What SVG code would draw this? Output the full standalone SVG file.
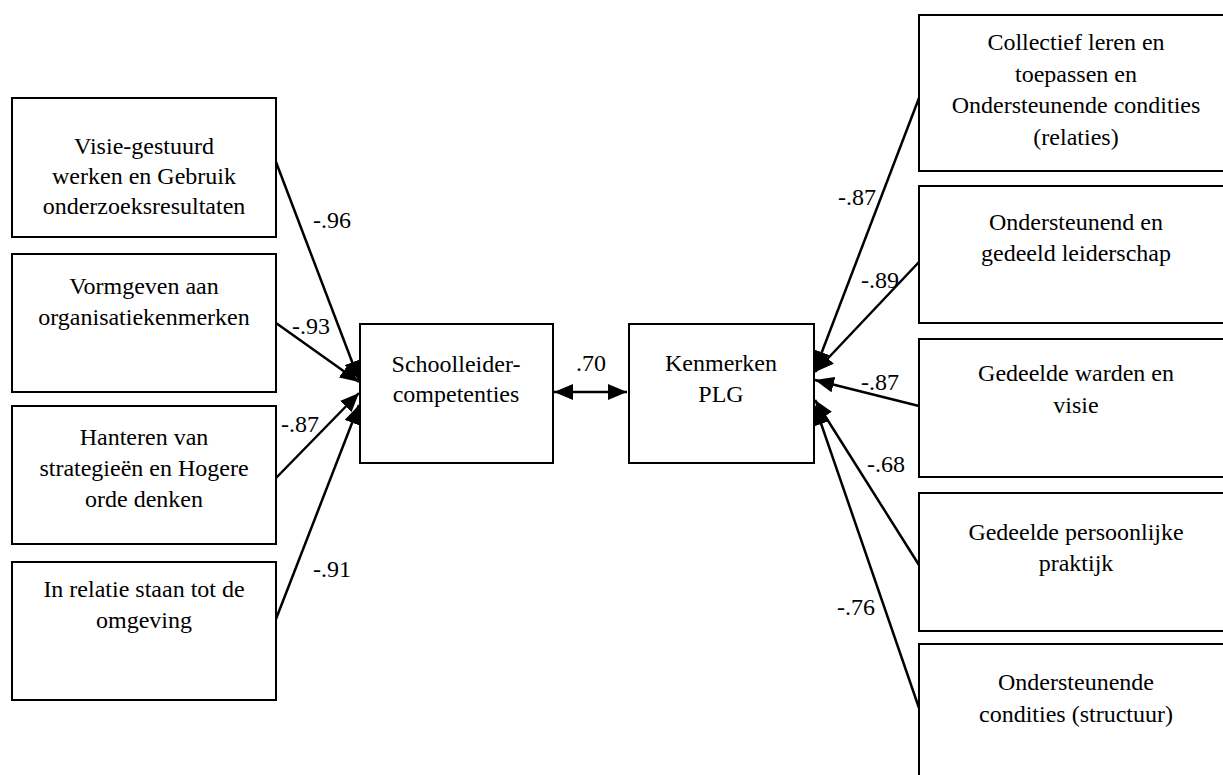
<svg xmlns="http://www.w3.org/2000/svg" width="1223" height="775" viewBox="0 0 1223 775">
<defs>
<style>
rect.box{fill:#fff;stroke:#000;stroke-width:2}
text{font-size:24px;fill:#000;text-anchor:middle}
line.e{stroke:#000;stroke-width:2.5;fill:none}
</style>
<marker id="ah" markerUnits="userSpaceOnUse" markerWidth="20" markerHeight="16" refX="19" refY="8" orient="auto-start-reverse">
<path d="M0,0 L19,8 L0,16 z" fill="#000"/>
</marker>
</defs>
<rect width="1223" height="775" fill="#fff"/>
<g id="connectors">
<line class="e" x1="276" y1="162" x2="359" y2="380" marker-end="url(#ah)"/>
<line class="e" x1="276" y1="323" x2="359" y2="382" marker-end="url(#ah)"/>
<line class="e" x1="276" y1="478" x2="359" y2="393" marker-end="url(#ah)"/>
<line class="e" x1="276" y1="619" x2="359" y2="405" marker-end="url(#ah)"/>
<line class="e" x1="554" y1="392" x2="627" y2="392" marker-start="url(#ah)" marker-end="url(#ah)"/>
<line class="e" x1="919" y1="98" x2="815" y2="370" marker-end="url(#ah)"/>
<line class="e" x1="919" y1="262" x2="815" y2="372" marker-end="url(#ah)"/>
<line class="e" x1="919" y1="406" x2="815" y2="380" marker-end="url(#ah)"/>
<line class="e" x1="919" y1="565" x2="815" y2="400" marker-end="url(#ah)"/>
<line class="e" x1="919" y1="708" x2="815" y2="406" marker-end="url(#ah)"/>
<text font-family="Times New Roman" x="332" y="228">-.96</text>
<text font-family="Times New Roman" x="311" y="334">-.93</text>
<text font-family="Times New Roman" x="300" y="432">-.87</text>
<text font-family="Times New Roman" x="332" y="577">-.91</text>
<text font-family="Times New Roman" x="591" y="371">.70</text>
<text font-family="Times New Roman" x="857" y="205">-.87</text>
<text font-family="Times New Roman" x="880" y="288">-.89</text>
<text font-family="Times New Roman" x="880" y="390">-.87</text>
<text font-family="Times New Roman" x="886" y="472">-.68</text>
<text font-family="Times New Roman" x="856" y="615">-.76</text>
</g>
<g id="l1"><rect class="box" x="12" y="98" width="264" height="139"/>
<text font-family="Times New Roman" x="144" y="154">Visie-gestuurd</text><text font-family="Times New Roman" x="144" y="184">werken en Gebruik</text><text font-family="Times New Roman" x="144" y="214">onderzoeksresultaten</text></g>
<g id="l2"><rect class="box" x="12" y="254" width="264" height="138"/>
<text font-family="Times New Roman" x="144" y="294">Vormgeven aan</text><text font-family="Times New Roman" x="144" y="325">organisatiekenmerken</text></g>
<g id="l3"><rect class="box" x="12" y="406" width="264" height="138"/>
<text font-family="Times New Roman" x="144" y="445">Hanteren van</text><text font-family="Times New Roman" x="144" y="476">strategieën en Hogere</text><text font-family="Times New Roman" x="144" y="507">orde denken</text></g>
<g id="l4"><rect class="box" x="12" y="562" width="264" height="138"/>
<text font-family="Times New Roman" x="144" y="597">In relatie staan tot de</text><text font-family="Times New Roman" x="144" y="628">omgeving</text></g>
<g id="school"><rect class="box" x="360" y="324" width="193" height="139"/>
<text font-family="Times New Roman" x="456" y="372">Schoolleider-</text><text font-family="Times New Roman" x="456" y="402">competenties</text></g>
<g id="plg"><rect class="box" x="629" y="324" width="185" height="139"/>
<text font-family="Times New Roman" x="721" y="371">Kenmerken</text><text font-family="Times New Roman" x="721" y="402">PLG</text></g>
<g id="r1"><rect class="box" x="919" y="15" width="316" height="156"/>
<text font-family="Times New Roman" x="1076" y="50">Collectief leren en</text><text font-family="Times New Roman" x="1076" y="82">toepassen en</text><text font-family="Times New Roman" x="1076" y="113">Ondersteunende condities</text><text font-family="Times New Roman" x="1076" y="145">(relaties)</text></g>
<g id="r2"><rect class="box" x="919" y="186" width="316" height="137"/>
<text font-family="Times New Roman" x="1076" y="230">Ondersteunend en</text><text font-family="Times New Roman" x="1076" y="261">gedeeld leiderschap</text></g>
<g id="r3"><rect class="box" x="919" y="339" width="316" height="138"/>
<text font-family="Times New Roman" x="1076" y="381">Gedeelde warden en</text><text font-family="Times New Roman" x="1076" y="413">visie</text></g>
<g id="r4"><rect class="box" x="919" y="493" width="316" height="138"/>
<text font-family="Times New Roman" x="1076" y="540">Gedeelde persoonlijke</text><text font-family="Times New Roman" x="1076" y="571">praktijk</text></g>
<g id="r5"><rect class="box" x="919" y="644" width="316" height="150"/>
<text font-family="Times New Roman" x="1076" y="690">Ondersteunende</text><text font-family="Times New Roman" x="1076" y="722">condities (structuur)</text></g>
</svg>
